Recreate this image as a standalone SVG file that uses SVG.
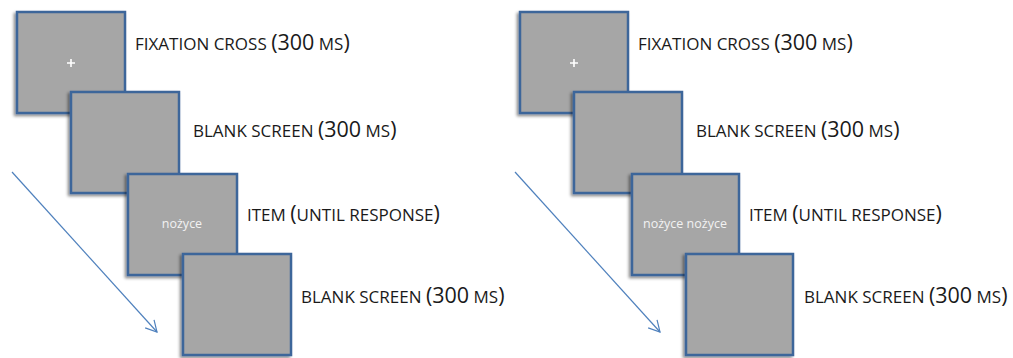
<svg xmlns="http://www.w3.org/2000/svg" width="1013" height="358" viewBox="0 0 1013 358">
<defs>
<filter id="sh" x="-10%" y="-10%" width="120%" height="120%">
<feDropShadow dx="-2" dy="2" stdDeviation="1.5" flood-color="#000" flood-opacity="0.45"/>
</filter>
<marker id="ah" markerWidth="14" markerHeight="14" refX="12" refY="7" orient="auto" markerUnits="userSpaceOnUse">
<path d="M1,1 L12,7 L1,13" fill="none" stroke="#4f81bd" stroke-width="1.2"/>
</marker>
</defs>
<style>
.scr{fill:#a6a6a6;stroke:#3e669a;stroke-width:2.5;filter:url(#sh)}
.lbl{font-family:"Open Sans","Liberation Sans",sans-serif;fill:#1a1a1a;font-size:17px}
.big{font-size:21.5px}
.in{font-family:"Open Sans","Liberation Sans",sans-serif;fill:#f2f2f2;font-size:12.5px;text-anchor:middle}
.arr{stroke:#4f81bd;stroke-width:1.2;fill:none}
</style>
<g id="connectors">
<line class="arr" x1="12" y1="172" x2="157" y2="332" marker-end="url(#ah)"/>
<line class="arr" x1="515" y1="172" x2="660" y2="332" marker-end="url(#ah)"/>
</g>
<g id="left-fixation">
<rect class="scr" x="17" y="12" width="108" height="101"/>
<path d="M67,63 H75 M71,59 V67" stroke="#fff" stroke-width="1.6"/>
<text class="lbl" x="135" y="50">FIXATION CROSS <tspan class="big">(300</tspan> MS<tspan class="big">)</tspan></text>
</g>
<g id="left-blank1">
<rect class="scr" x="71" y="92" width="108" height="101"/>
<text class="lbl" x="193" y="137">BLANK SCREEN <tspan class="big">(300</tspan> MS<tspan class="big">)</tspan></text>
</g>
<g id="left-item">
<rect class="scr" x="128" y="174" width="109" height="101"/>
<text class="in" x="182" y="228">nożyce</text>
<text class="lbl" x="247" y="221">ITEM <tspan class="big">(</tspan>UNTIL RESPONSE<tspan class="big">)</tspan></text>
</g>
<g id="left-blank2">
<rect class="scr" x="183" y="254" width="108" height="101"/>
<text class="lbl" x="301" y="303">BLANK SCREEN <tspan class="big">(300</tspan> MS<tspan class="big">)</tspan></text>
</g>
<g id="right-fixation">
<rect class="scr" x="520" y="12" width="108" height="101"/>
<path d="M570,63 H578 M574,59 V67" stroke="#fff" stroke-width="1.6"/>
<text class="lbl" x="638" y="50">FIXATION CROSS <tspan class="big">(300</tspan> MS<tspan class="big">)</tspan></text>
</g>
<g id="right-blank1">
<rect class="scr" x="574" y="92" width="108" height="101"/>
<text class="lbl" x="696" y="137">BLANK SCREEN <tspan class="big">(300</tspan> MS<tspan class="big">)</tspan></text>
</g>
<g id="right-item">
<rect class="scr" x="632" y="174" width="107" height="101"/>
<text class="in" x="685" y="228">nożyce nożyce</text>
<text class="lbl" x="749" y="221">ITEM <tspan class="big">(</tspan>UNTIL RESPONSE<tspan class="big">)</tspan></text>
</g>
<g id="right-blank2">
<rect class="scr" x="686" y="254" width="107" height="101"/>
<text class="lbl" x="804" y="303">BLANK SCREEN <tspan class="big">(300</tspan> MS<tspan class="big">)</tspan></text>
</g>
</svg>
